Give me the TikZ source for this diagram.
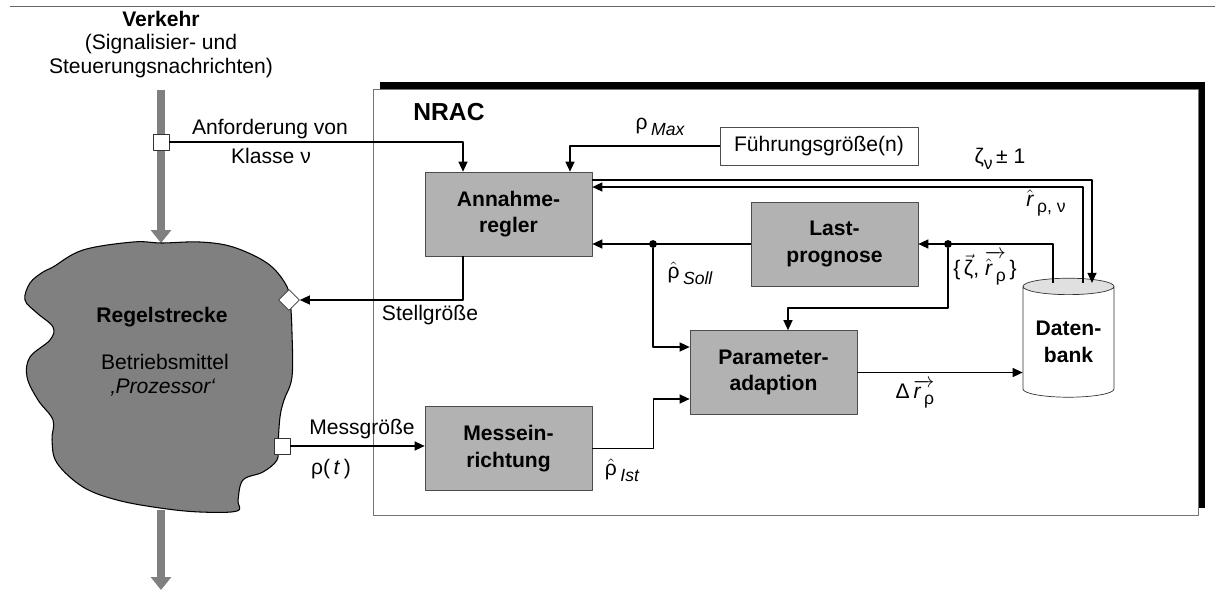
\documentclass[tikz,border=0pt]{standalone}
\usepackage{fontspec}
\usepackage{amsmath}
\setmainfont{Liberation Sans}
\usetikzlibrary{arrows.meta,shapes.geometric}
\newcommand{\lsub}[1]{\raisebox{-0.55ex}{\fontsize{10}{12}\selectfont #1}}
\begin{document}
\begin{tikzpicture}[x=0.02cm, y=-0.02cm, font=\fontsize{12}{14.5}\selectfont, line join=round, >={Triangle[length=2mm,width=1.8mm]},
	block/.style={draw=black!70, fill=black!30, font=\fontsize{12}{15}\selectfont\bfseries, align=center, minimum width=3.34cm, minimum height=1.68cm, inner sep=0pt},
	sig/.style={->, line width=0.8pt},
	flow/.style={-{Triangle[length=0.26cm,width=0.4cm]}, draw=black!50, line width=4.5pt},
	port/.style={draw=black!80, fill=white, minimum size=0.32cm, inner sep=0pt},
	junc/.style={circle, fill, inner sep=0pt, minimum size=4.5pt}]
	\useasboundingbox (0,0) rectangle (1215,592);
	\draw[black!60] (10,6) -- (1215,6);
	\node[font=\fontsize{12}{14.5}\selectfont\bfseries] (vk) at (161,19) {Verkehr};
	\node (vk2) at (161,44) {(Signalisier- und};
	\node (vk3) at (161,68) {Steuerungsnachrichten)};
	% NRAC
	\fill (380,82) rectangle (1205,508);
	\node[draw=black!55, fill=white, minimum width=16.5cm, minimum height=8.52cm, inner sep=0pt] (nrac) at (785.5,302) {};
	\node[font=\fontsize{14}{17}\selectfont\bfseries] (nt) at (449,112) {NRAC};
	\node[block] (anr) at (508.5,214) {Annahme-\\regler};
	\node[block] (lpr) at (834.5,244) {Last-\\prognose};
	\node[block] (par) at (773.5,372.5) {Parameter-\\adaption};
	\node[block] (mes) at (508.5,448.5) {Messein-\\richtung};
	\node[draw=black!70, fill=white, minimum width=3.96cm, minimum height=0.76cm, inner sep=0pt] (fg) at (819,146) {Führungsgröße(n)};
	\node[cylinder, shape border rotate=90, aspect=0.25, draw=black!80, cylinder uses custom fill, cylinder body fill=white, cylinder end fill=black!12, minimum width=1.82cm, minimum height=2.38cm, inner sep=0pt, font=\fontsize{12}{15}\selectfont\bfseries, align=center] (db) at (1068.5,342) {Daten-\\bank};
	% Regelstrecke
	\coordinate (vin) at (161,90);
	\coordinate (rstop) at (161,243);
	\coordinate (rsbot) at (161,510);
	\coordinate (vout) at (161,590);
	\draw[flow] (vin) -- (rstop);
	\draw[flow] (rsbot) -- (vout);
	\draw[fill=black!50, line width=0.6pt] plot[smooth cycle, tension=0.6] coordinates {(162,243) (200,242) (233,247) (267,263) (285,283) (290,300) (292,333) (292,377) (284,400) (280,417) (278,445) (277,460) (263,472) (243,480) (238,500) (237,511) (200,512) (160,508) (117,500) (83,487) (57,463) (52,440) (53,420) (38,400) (27,377) (30,357) (50,340) (53,327) (37,313) (25,300) (30,283) (43,272) (53,267) (83,250) (133,242)};
	\node[font=\fontsize{12}{14.5}\selectfont\bfseries] (rs) at (162,317) {Regelstrecke};
	\node (rsb) at (165,362) {Betriebsmittel};
	\node (rsp) at (163,388) {\itshape ‚Prozessor‘};
	\node[port] (sqin) at (161,142) {};
	\node[port] (sqout) at (282,446) {};
	\node[port, diamond, minimum size=0.42cm] (dia) at (289,300) {};
	\node[junc] (j1) at (653,244) {};
	\node[junc] (j2) at (948,244) {};
	% Verbindungen
	\draw[sig] (sqin) -| ([xshift=-0.91cm]anr.north);
	\draw[sig] (fg.west) -| ([xshift=1.23cm]anr.north);
	\draw[sig] ([yshift=0.68cm]anr.east) -| ([xshift=0.47cm,yshift=-0.1cm]db.top);
	\draw[sig] ([xshift=0.29cm,yshift=-0.1cm]db.top) |- ([yshift=0.54cm]anr.east);
	\draw[sig] ([xshift=-0.31cm,yshift=-0.1cm]db.top) |- (lpr.east);
	\draw[sig] (lpr.west) -- (lpr.west -| anr.east);
	\draw[sig] (j1) |- ([yshift=0.51cm]par.west);
	\draw[sig] (j2) -- ++(0,64) -| ([xshift=0.29cm]par.north);
	\draw[sig] (mes.east) -- ++(61,0) |- ([yshift=-0.53cm]par.west);
	\draw[sig] (par.east) -- (par.east -| db.west);
	\draw[sig] ([xshift=-0.91cm]anr.south) |- (dia.east);
	\draw[sig] (sqout) -- (sqout -| mes.west);
	% Beschriftungen
	\node (lanf) at (270,129) {Anforderung von};
	\node (lkl) at (271,156) {Klasse ν};
	\node (lstell) at (430,315) {Stellgröße};
	\node (lmess) at (362,429) {Messgröße};
	\node (lrt) at (331,469) {ρ(\,\textit{t}\,)};
	\node (lmax) at (660,127) {ρ\,\lsub{\itshape Max}};
	\node (lz) at (1000,159) {ζ\lsub{ν}\,± 1};
	\node (lr) at (1046,203) {$\hat{\text{\itshape r}}$\,\lsub{ρ, ν}};
	\node (lsoll) at (690,273) {$\hat{\text{ρ}}$\,\lsub{\itshape Soll}};
	\node (lvec) at (985,268) {\{\,$\vec{\text{ζ}}$, $\overrightarrow{\hat{\text{\itshape r}}\text{\,\lsub{ρ}}}$\,\}};
	\node (ldr) at (915,394) {Δ\,$\overrightarrow{\text{\itshape r}\text{\,\lsub{ρ}}}$};
	\node (list) at (622,470) {$\hat{\text{ρ}}$\,\lsub{\itshape Ist}};
\end{tikzpicture}
\end{document}
